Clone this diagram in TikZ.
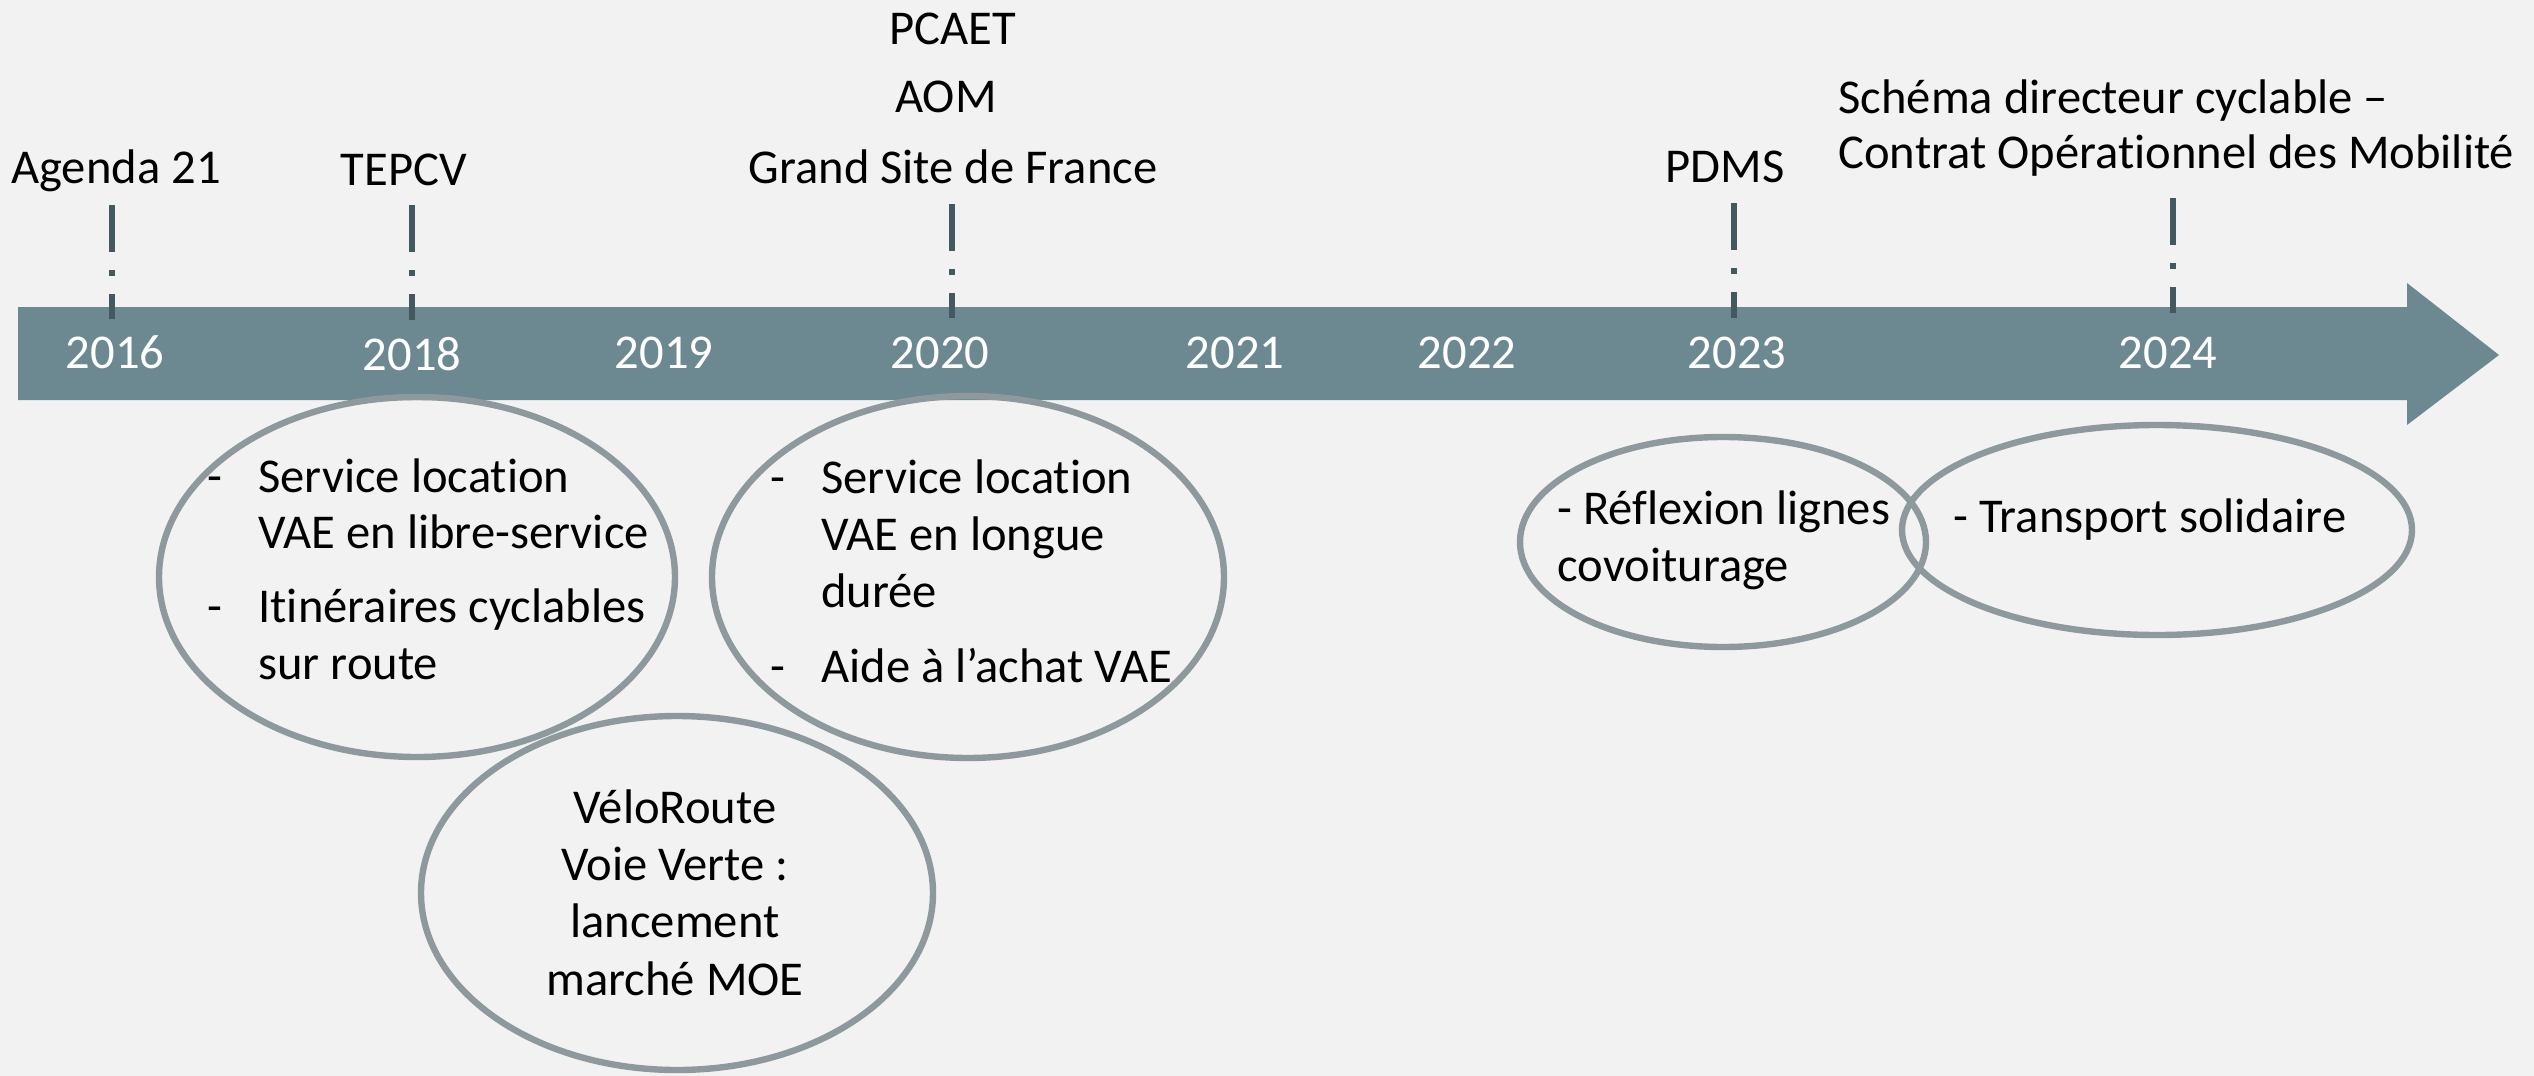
\documentclass[tikz,border=0pt]{standalone}
\usepackage{fontspec}
\setmainfont{Carlito}[Ligatures=NoCommon]
\usetikzlibrary{shapes.geometric}
\definecolor{bg}{HTML}{F2F2F2}
\definecolor{band}{HTML}{6C8891}
\definecolor{tickc}{HTML}{44585F}
\definecolor{ring}{HTML}{8E999D}
\begin{document}
\begin{tikzpicture}[x=0.5pt,y=-0.5pt,
  txt/.style={inner sep=0pt, font=\fontsize{24.3}{28}\selectfont, text=black},
  yr/.style={txt, text=white, anchor=base},
  lbl/.style={txt, anchor=base},
  lft/.style={txt, anchor=base west},
  bubble/.style={draw=ring, line width=3.2pt, ellipse, inner sep=0pt},
  tickline/.style={draw=tickc, line width=3pt, dash pattern=on 23.5pt off 9pt on 3pt off 9pt}]
\fill[bg] (0,0) rectangle (2534,1076);
\useasboundingbox (0,0) rectangle (2534,1076);
% timeline arrow
\fill[band] (18,307) -- (2407,307) -- (2407,283) -- (2499,355) -- (2407,425) -- (2407,400) -- (18,400) -- cycle;
% years
\node[yr] (y2016) at (115,368) {2016};
\node[yr] (y2018) at (412,370) {2018};
\node[yr] (y2019) at (664,368) {2019};
\node[yr] (y2020) at (940,368) {2020};
\node[yr] (y2021) at (1235,368) {2021};
\node[yr] (y2022) at (1467,368) {2022};
\node[yr] (y2023) at (1737,368) {2023};
\node[yr] (y2024) at (2168,368) {2024};
% labels above
\node[lbl] (agenda) at (116,183) {Agenda 21};
\node[lbl] (tepcv) at (404,185) {TEPCV};
\node[lbl] (pcaet) at (953,45) {PCAET};
\node[lbl] (aom) at (946,112) {AOM};
\node[lbl] (gsf) at (953,183) {Grand Site de France};
\node[lbl] (pdms) at (1725,182) {PDMS};
\node[lft] (sdc1) at (1838,113) {Schéma directeur cyclable –};
\node[lft] (sdc2) at (1838,168) {Contrat Opérationnel des Mobilité};
% ticks
\coordinate (t1a) at (112,205); \coordinate (t1b) at (112,319);
\coordinate (t2a) at (412,205); \coordinate (t2b) at (412,320);
\coordinate (t3a) at (952,204); \coordinate (t3b) at (952,318);
\coordinate (t4a) at (1734,203); \coordinate (t4b) at (1734,318);
\coordinate (t5a) at (2173,198); \coordinate (t5b) at (2173,313);
\draw[tickline] (t1a) -- (t1b);
\draw[tickline] (t2a) -- (t2b);
\draw[tickline] (t3a) -- (t3b);
\draw[tickline] (t4a) -- (t4b);
\draw[tickline] (t5a) -- (t5b);
% bubbles
\node[bubble, minimum width=516pt*0.5, minimum height=360pt*0.5] (e1) at (417,577) {};
\node[bubble, minimum width=512pt*0.5, minimum height=362pt*0.5] (e2) at (968,577) {};
\node[bubble, minimum width=512pt*0.5, minimum height=354pt*0.5] (e3) at (677,893) {};
\node[bubble, minimum width=406pt*0.5, minimum height=210pt*0.5] (e4) at (1723,542) {};
\node[bubble, minimum width=510pt*0.5, minimum height=210pt*0.5] (e5) at (2157,530) {};
% bubble 1 text
\node[lft] (b1a) at (207,492) {-};
\node[lft] (l1a) at (258,492) {Service location};
\node[lft] (l1b) at (258,548) {VAE en libre-service};
\node[lft] (b1b) at (207,622) {-};
\node[lft] (l1c) at (258,622) {Itinéraires cyclables};
\node[lft] (l1d) at (258,679) {sur route};
% bubble 2 text
\node[lft] (b2a) at (770,493) {-};
\node[lft] (l2a) at (821,493) {Service location};
\node[lft] (l2b) at (821,550) {VAE en longue};
\node[lft] (l2c) at (821,607) {durée};
\node[lft] (b2b) at (770,682) {-};
\node[lft] (l2d) at (821,682) {Aide à l’achat VAE};
% bubble 3 text
\node[lbl] (l3a) at (675,823) {VéloRoute};
\node[lbl] (l3b) at (675,880) {Voie Verte :};
\node[lbl] (l3c) at (675,937) {lancement};
\node[lbl] (l3d) at (675,995) {marché MOE};
% bubble 4 text
\node[lft] (l4a) at (1557,524) {- Réflexion lignes};
\node[lft] (l4b) at (1557,581) {covoiturage};
% bubble 5 text
\node[lft] (l5a) at (1953,532) {- Transport solidaire};
\end{tikzpicture}
\end{document}
